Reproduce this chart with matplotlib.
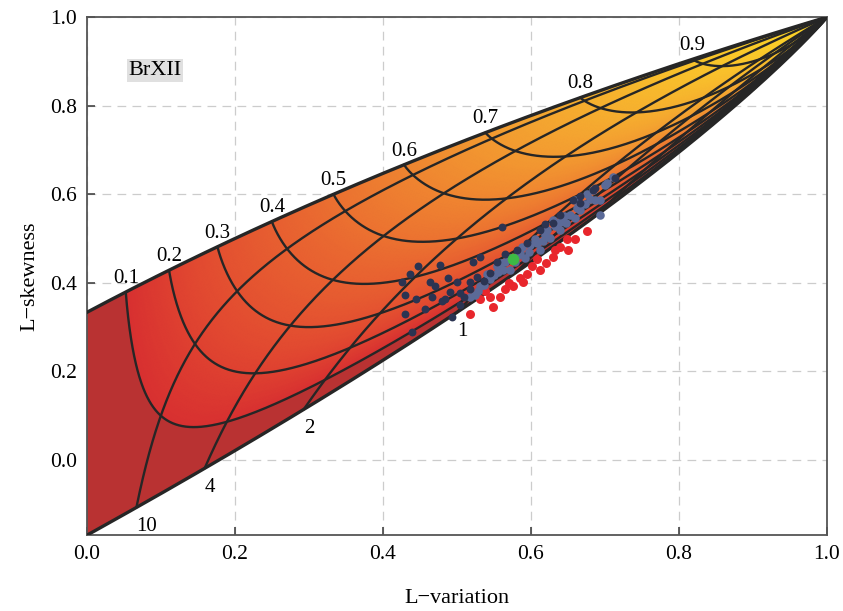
import math
import numpy as np
import matplotlib
matplotlib.use("Agg")
import matplotlib.pyplot as plt
from matplotlib.colors import LinearSegmentedColormap
from matplotlib.patches import Polygon

plt.rcParams['font.family'] = ['Liberation Serif', 'DejaVu Serif']

# Burr XII mesh: tail index xi = 1/(k c) (upper labels) and shape c (lower labels)
XI_LEVELS = [0.1, 0.2, 0.3, 0.4, 0.5, 0.6, 0.7, 0.8, 0.9]
C_LEVELS = [10, 4, 2, 1, 0.8, 0.6, 0.45, 0.3]
C_LABELLED = [10, 4, 2, 1]

# sample L-moment ratios (L-variation, L-skewness)
dark_x = [0.447, 0.477, 0.488, 0.426, 0.430, 0.439, 0.463, 0.466, 0.480, 0.500,
          0.504, 0.518, 0.531, 0.527, 0.561, 0.554, 0.581, 0.595, 0.612, 0.630,
          0.657, 0.666, 0.684, 0.714, 0.522, 0.430, 0.445, 0.457, 0.493, 0.484,
          0.504, 0.518, 0.545, 0.565, 0.619, 0.639, 0.666, 0.686, 0.436, 0.470,
          0.490, 0.510, 0.536]
dark_y = [0.437, 0.441, 0.412, 0.403, 0.329, 0.288, 0.401, 0.369, 0.358, 0.401,
          0.378, 0.401, 0.459, 0.414, 0.527, 0.446, 0.475, 0.491, 0.520, 0.536,
          0.588, 0.595, 0.610, 0.637, 0.448, 0.372, 0.363, 0.340, 0.322, 0.363,
          0.351, 0.385, 0.423, 0.464, 0.532, 0.554, 0.581, 0.615, 0.419, 0.392,
          0.380, 0.368, 0.405]

slate_x = [0.711, 0.684, 0.659, 0.693, 0.630, 0.639, 0.585, 0.554, 0.531, 0.518,
           0.565, 0.599, 0.619, 0.653, 0.673, 0.545, 0.572, 0.612, 0.626, 0.666,
           0.686, 0.592, 0.578, 0.528, 0.605, 0.639, 0.659, 0.693, 0.540, 0.560,
           0.588, 0.622, 0.645, 0.676, 0.700, 0.524, 0.536, 0.550, 0.562, 0.583,
           0.597, 0.608, 0.616, 0.633, 0.648, 0.662, 0.680, 0.703, 0.570, 0.556]
slate_y = [0.640, 0.610, 0.588, 0.588, 0.543, 0.520, 0.468, 0.437, 0.392, 0.367,
           0.448, 0.486, 0.509, 0.554, 0.577, 0.408, 0.430, 0.475, 0.502, 0.565,
           0.588, 0.457, 0.448, 0.381, 0.498, 0.538, 0.547, 0.554, 0.420, 0.445,
           0.480, 0.520, 0.550, 0.600, 0.620, 0.372, 0.395, 0.418, 0.430, 0.462,
           0.470, 0.490, 0.495, 0.528, 0.535, 0.570, 0.590, 0.625, 0.455, 0.424]

red_x = [0.518, 0.549, 0.545, 0.558, 0.576, 0.585, 0.601, 0.608, 0.630, 0.632,
         0.650, 0.649, 0.676, 0.531, 0.565, 0.589, 0.612, 0.639, 0.538, 0.595,
         0.620, 0.660, 0.570]
red_y = [0.329, 0.345, 0.369, 0.369, 0.392, 0.412, 0.437, 0.453, 0.459, 0.475,
         0.475, 0.498, 0.516, 0.363, 0.385, 0.401, 0.430, 0.480, 0.381, 0.420,
         0.445, 0.500, 0.400]

green_x = [0.576]
green_y = [0.453]

lgam = np.vectorize(math.lgamma)


def burr_lmr(xi, c):
    """L-variation and L-skewness of Burr XII with k = 1/(xi*c)."""
    b = 1.0 / np.asarray(c, dtype=float)
    xi = np.asarray(xi, dtype=float)
    a = [b * ((r + 1) / xi - 1) for r in range(3)]
    base = lgam(a[0]) - lgam(a[0] + 1 + b)
    r1 = np.exp(lgam(a[1]) - lgam(a[1] + 1 + b) - base)
    r2 = np.exp(lgam(a[2]) - lgam(a[2] + 1 + b) - base)
    t = 1 - 2 * r1
    t3 = (1 - 6 * r1 + 6 * r2) / t
    return t, t3


def pareto(xi):
    xi = np.asarray(xi, dtype=float)
    return xi / (2 - xi), (1 + xi) / (3 - xi)


def weibull(c):
    b = 1.0 / np.asarray(c, dtype=float)
    t = 1 - 2.0 ** (-b)
    return t, 3 - 2 * (1 - 3.0 ** (-b)) / t


cmap = LinearSegmentedColormap.from_list("brxii", [
    (0.0, "#d83030"), (0.17, "#e24a30"), (0.38, "#e96630"), (0.55, "#ef8430"),
    (0.72, "#f4a430"), (0.88, "#f9c22b"), (1.0, "#fdd826")])

fig, ax = plt.subplots(figsize=(8.43, 6.11), dpi=100)
fig.subplots_adjust(left=0.103, right=0.981, bottom=0.124, top=0.972)

# outline of the attainable region
xs = np.linspace(0, 1, 400)
up_t, up_t3 = pareto(xs)
cs = np.logspace(-2.3, 6, 600)
lo_t, lo_t3 = weibull(cs)
outline = np.vstack([np.column_stack([up_t, up_t3]),
                     np.column_stack([lo_t, lo_t3]),
                     [[0, 1 / 3]]])
region = Polygon(outline, closed=True, fc="#b93232", ec="none", zorder=1)
ax.add_patch(region)

# colour field over xi >= 0.1
XI, CC = np.meshgrid(np.linspace(0.1, 0.9995, 160), np.logspace(-2, 4, 260))
T, T3 = burr_lmr(XI, CC)
mesh = ax.pcolormesh(T, T3, (XI - 0.1) / 0.9, cmap=cmap, vmin=0, vmax=1,
                     shading="gouraud", zorder=2)
mesh.set_clip_path(region)

line_kw = dict(color="#262626", lw=1.7, zorder=4, solid_capstyle="round")
c_path = np.logspace(-2.2, 4.5, 1500)
for xi in XI_LEVELS:
    t, t3 = burr_lmr(np.full_like(c_path, xi), c_path)
    ax.plot(t, t3, **line_kw)
xi_path = np.concatenate([np.logspace(-6, -1, 400), np.linspace(0.1, 0.9999, 800)])
for c in C_LEVELS:
    t, t3 = burr_lmr(xi_path, np.full_like(xi_path, c))
    ax.plot(t, t3, **line_kw)

ax.plot(up_t, up_t3, color="#262626", lw=2.4, zorder=5)
ax.plot(lo_t, lo_t3, color="#262626", lw=2.4, zorder=5)

for xi in XI_LEVELS:
    px, py = pareto(xi)
    ax.annotate(f"{xi:.1f}", (px, py), xytext=(0, 3), textcoords="offset points",
                ha="center", va="bottom", fontsize=15, zorder=6)
for c in C_LABELLED:
    px, py = weibull(c)
    ax.annotate(f"{c}", (px, py), xytext=(7 if c == 10 else 4, -7),
                textcoords="offset points", ha="center", va="top",
                fontsize=15, zorder=6)

ax.scatter(red_x, red_y, s=42, color="#e8262c", lw=0, zorder=7)
ax.scatter(slate_x, slate_y, s=38, color="#5b6a98", lw=0, zorder=8)
ax.scatter(dark_x, dark_y, s=32, color="#2b3452", lw=0, zorder=9)
ax.scatter(green_x, green_y, s=70, color="#3dba45", lw=0, zorder=10)

ax.text(0.092, 0.88, "BrXII", ha="center", va="center", fontsize=16,
        bbox=dict(boxstyle="square,pad=0.08", fc="#e0e0e0", ec="none"), zorder=6)

ax.set_xlim(0, 1)
ax.set_ylim(-0.1699, 1.0)
ax.set_xticks(np.arange(0, 1.01, 0.2))
ax.set_yticks(np.arange(0, 1.01, 0.2))
ax.xaxis.set_major_formatter(plt.FormatStrFormatter("%.1f"))
ax.yaxis.set_major_formatter(plt.FormatStrFormatter("%.1f"))
ax.tick_params(direction="in", length=6, width=1.2, labelsize=15.5,
               color="#444444", pad=7)
ax.grid(True, ls=(0, (7, 5)), color="#cccccc", lw=0.9, zorder=0)
ax.set_axisbelow(True)
for s in ax.spines.values():
    s.set_color("#555555")
    s.set_linewidth(1.3)
ax.set_xlabel("L\u2212variation", fontsize=16, labelpad=18)
ax.set_ylabel("L\u2212skewness", fontsize=16, labelpad=8)

fig.savefig("out.png", dpi=100)
